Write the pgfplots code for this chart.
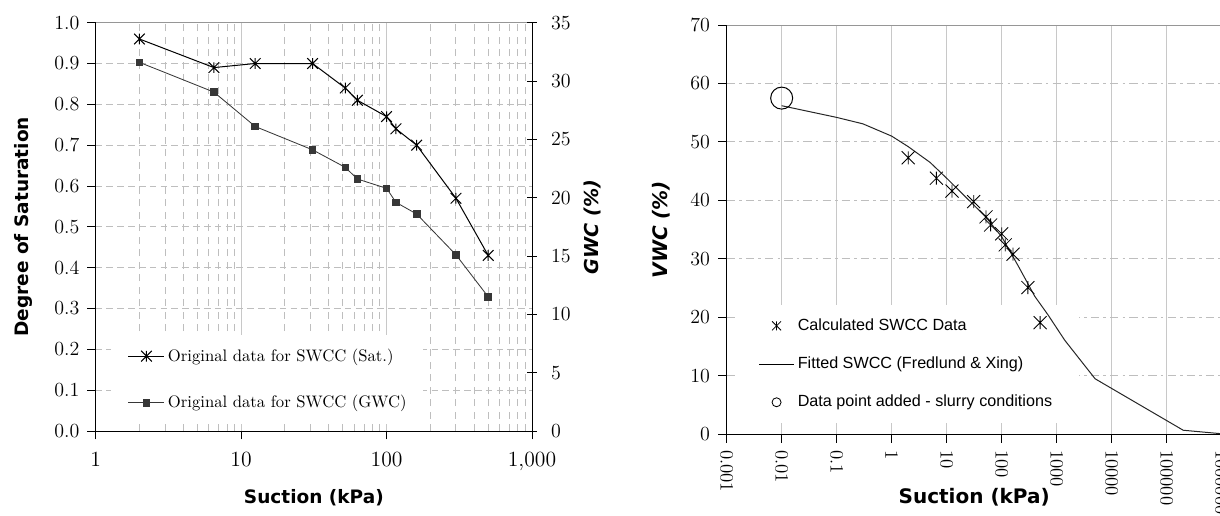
\documentclass[border=0pt]{standalone}
\usepackage{fontspec}
\usepackage{pgfplots}
\usepackage{pgfplotstable}
\pgfplotsset{compat=1.18}
\newfontfamily\lbl{DejaVu Sans}[BoldFont=* Bold, ItalicFont=* Oblique, BoldItalicFont=* Bold Oblique]
\newfontfamily\arial{Liberation Sans}

\definecolor{gridgray}{RGB}{190,190,190}
\definecolor{majgray}{RGB}{200,200,200}
\definecolor{bordergray}{RGB}{150,150,150}
\definecolor{sqgray}{RGB}{55,55,55}

% spreadsheet style "star": an X with a vertical stroke
\pgfdeclareplotmark{xstar}{%
  \pgfpathmoveto{\pgfqpoint{0pt}{-\pgfplotmarksize}}%
  \pgfpathlineto{\pgfqpoint{0pt}{\pgfplotmarksize}}%
  \pgfpathmoveto{\pgfqpoint{-\pgfplotmarksize}{-\pgfplotmarksize}}%
  \pgfpathlineto{\pgfqpoint{\pgfplotmarksize}{\pgfplotmarksize}}%
  \pgfpathmoveto{\pgfqpoint{-\pgfplotmarksize}{\pgfplotmarksize}}%
  \pgfpathlineto{\pgfqpoint{\pgfplotmarksize}{-\pgfplotmarksize}}%
  \pgfusepathqstroke}

% suction (kPa), degree of saturation, GWC (%), VWC (%)
\pgfplotstableread{
s    sat   gwc   vwc
2    0.96  31.6  47.3
6.5  0.89  29.05 43.8
12.5 0.90  26.1  41.6
31   0.90  24.1  39.8
52   0.84  22.6  37.2
63   0.81  21.6  35.8
100  0.77  20.8  34.3
116  0.74  19.6  32.4
161  0.70  18.6  30.8
300  0.57  15.1  25.1
500  0.43  11.5  19.1
}\swcc

% Fredlund & Xing fit
\pgfplotstableread{
s       vwc
0.01    56.2
0.1     54.2
0.3     53.1
1       51.0
2       49.2
5       46.5
10      43.8
20      41.0
50      37.3
100     33.8
200     28.8
400     23.6
700     20.4
1400    16.1
5000    9.5
200000  0.7
1000000 0.1
}\fitted

\tikzset{
  lblfont/.style={font=\lbl\bfseries\fontsize{11.1}{14}\selectfont},
  lblfontit/.style={font=\lbl\bfseries\itshape\fontsize{11.5}{14}\selectfont},
}
\newcommand\legfont{\fontsize{10}{12}\selectfont}
\newcommand\legfontr{\arial\fontsize{9.7}{11.5}\selectfont}

\begin{document}
\begin{tikzpicture}

% ---------- left panel ----------
\begin{axis}[
  at={(57.4pt,50.4pt)}, anchor=south west, scale only axis,
  width=261.8pt, height=245pt,
  xmode=log, xmin=1, xmax=1000, ymin=0, ymax=1,
  axis x line*=bottom, axis y line*=left,
  xtick pos=lower, ytick pos=left,
  axis line style={line width=0.6pt},
  tick align=outside, major tick length=5pt, minor tick length=0pt,
  tick style={black, line width=0.6pt},
  xtick={1,10,100,1000}, xticklabels={1,10,100,{1,000}},
  ytick={0,0.1,0.2,0.3,0.4,0.5,0.6,0.7,0.8,0.9,1},
  xticklabel style={font=\fontsize{13}{15}\selectfont},
  yticklabel style={font=\fontsize{12.5}{15}\selectfont, /pgf/number format/.cd,fixed,fixed zerofill,precision=1},
  xticklabel shift=4pt, yticklabel shift=1.3pt,
  xmajorgrids, xminorgrids, ymajorgrids,
  major x grid style={majgray, line width=0.6pt},
  minor x grid style={gridgray, dash pattern=on 4pt off 3.5pt, line width=0.6pt},
  major y grid style={gridgray, dash pattern=on 4pt off 2.5pt, line width=0.6pt},
  xlabel={Suction (kPa)}, ylabel={Degree of Saturation},
  every axis x label/.style={at={(axis description cs:0.5,-0.1641)}, anchor=center, lblfont},
  every axis y label/.style={at={(axis description cs:-0.1665,0.5)}, rotate=90, anchor=center, lblfont},
  legend style={at={(axis description cs:0.0351,0.0163)}, anchor=south west,
    draw=none, fill=white, inner xsep=10pt, inner ysep=6.2pt, row sep=15pt,
    column sep=1.8pt, font=\legfont, nodes={font=\legfont, inner xsep=0pt}},
  legend cell align=left,
  legend image code/.code={%
    \draw[mark repeat=2,mark phase=2,#1] plot coordinates {(0pt,0pt) (10.8pt,0pt) (21.6pt,0pt)};},
  after end axis/.code={\draw[bordergray, line width=0.6pt] (axis description cs:0,1) -- (axis description cs:1,1);},
]
\addplot[black, line width=0.6pt, mark=xstar, mark size=3.2pt] table[x=s, y=sat] {\swcc};
\addlegendentry{Original data for SWCC (Sat.)}
\addlegendimage{sqgray, line width=0.5pt, mark=square*, mark size=2pt, mark options={fill=sqgray}}
\addlegendentry{Original data for SWCC (GWC)}
\end{axis}

\begin{axis}[
  at={(57.4pt,50.4pt)}, anchor=south west, scale only axis,
  width=261.8pt, height=245pt,
  xmode=log, xmin=1, xmax=1000, ymin=0, ymax=35,
  axis x line=none, axis y line*=right,
  ytick pos=right, yticklabel pos=right,
  axis line style={line width=0.6pt},
  ytick={0,5,10,15,20,25,30,35},
  tick align=center, major tick length=6pt,
  tick style={black, line width=0.6pt},
  tick label style={font=\fontsize{12.5}{15}\selectfont},
  yticklabel shift=5pt,
  ylabel={GWC (\%)},
  every axis y label/.style={at={(axis description cs:1.1375,0.5)}, rotate=90, anchor=center, lblfontit},
]
\addplot[sqgray, line width=0.5pt, mark=square*, mark size=2pt, mark options={fill=sqgray}] table[x=s, y=gwc] {\swcc};
\end{axis}

% ---------- right panel: grid, ticks and legend ----------
\begin{axis}[
  at={(436pt,48.4pt)}, anchor=south west, scale only axis,
  width=297pt, height=245.6pt,
  xmode=log, xmin=0.001, xmax=1000000, ymin=0, ymax=70,
  axis x line*=bottom, axis y line*=left,
  xtick pos=lower, ytick pos=left,
  axis line style={line width=0.6pt},
  tick align=outside, major tick length=5pt, minor tick length=0pt,
  tick style={black, line width=0.6pt},
  xtick={0.001,0.01,0.1,1,10,100,1000,10000,100000,1000000},
  xticklabels={0.001,0.01,0.1,1,10,100,1000,10000,100000,1000000},
  ytick={0,10,20,30,40,50,60,70},
  xticklabel style={rotate=-90, anchor=west, font=\fontsize{11.3}{13}\selectfont},
  yticklabel style={font=\fontsize{12.5}{15}\selectfont},
  xticklabel shift=0.9pt, yticklabel shift=1.5pt,
  xmajorgrids, ymajorgrids,
  x grid style={majgray, line width=0.6pt},
  y grid style={gridgray, dash pattern=on 5pt off 2.5pt on 1.5pt off 2.5pt, line width=0.6pt},
  xlabel={Suction (kPa)}, ylabel={VWC (\%)},
  every axis x label/.style={at={(axis description cs:0.5,-0.1531)}, anchor=center, font=\lbl\bfseries\fontsize{12}{14}\selectfont},
  every axis y label/.style={at={(axis description cs:-0.1327,0.5)}, rotate=90, anchor=center, font=\lbl\bfseries\itshape\fontsize{12}{14}\selectfont},
  legend style={at={(axis description cs:0.0168,0.0276)}, anchor=south west,
    draw=none, fill=white, inner xsep=14pt, inner ysep=6pt, row sep=10.4pt,
    font=\legfontr, nodes={font=\legfontr}},
  legend cell align=left,
  legend image code/.code={\draw[mark repeat=2,mark phase=2,#1] plot coordinates {(0pt,0pt) (10.5pt,0pt) (21pt,0pt)};},
  after end axis/.code={\draw[bordergray, line width=0.6pt] (axis description cs:0,1) -- (axis description cs:1,1);},
]
\addlegendimage{only marks, mark=xstar, mark size=2.7pt, black, line width=0.5pt}
\addlegendentry{Calculated SWCC Data}
\addlegendimage{black, line width=0.5pt}
\addlegendentry{Fitted SWCC (Fredlund \& Xing)}
\addlegendimage{only marks, mark=o, mark size=2.7pt, black, line width=0.5pt}
\addlegendentry{Data point added - slurry conditions}
\end{axis}

% ---------- right panel: data on top of the legend ----------
\begin{axis}[
  at={(436pt,48.4pt)}, anchor=south west, scale only axis,
  width=297pt, height=245.6pt,
  xmode=log, xmin=0.001, xmax=1000000, ymin=0, ymax=70,
  hide axis,
]
\addplot[black!85, line width=0.6pt] table[x=s, y=vwc] {\fitted};
\addplot[only marks, black, line width=0.5pt, mark=xstar, mark size=3.9pt] table[x=s, y=vwc] {\swcc};
\addplot[only marks, black, line width=0.6pt, mark=o, mark size=6.6pt] coordinates {(0.01,57.5)};
\end{axis}

\pgfresetboundingbox
\path[use as bounding box] (0,0) rectangle (732pt,309pt);
\end{tikzpicture}
\end{document}
